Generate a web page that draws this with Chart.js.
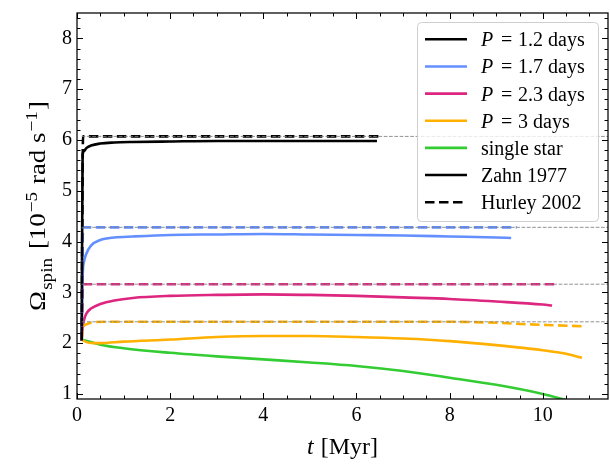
<!DOCTYPE html>
<html>
<head>
<meta charset="utf-8">
<script src="https://cdn.jsdelivr.net/npm/chart.js@4.4.1/dist/chart.umd.min.js"></script>
<style>
  html, body { margin: 0; padding: 0; background: #fff; }
  #wrap { width: 610px; height: 476px; position: relative; }
</style>
</head>
<body>
<div id="wrap"><canvas id="spinChart"></canvas></div>
<script>
// axis ticks
var xTicks = [0, 2, 4, 6, 8, 10];
var yTicks = [1, 2, 3, 4, 5, 6, 7, 8];

// P = 1.2 days
var tZahn12 = [0.1, 0.12, 0.15, 0.2, 0.3, 0.5, 0.8, 1.2, 2, 3, 4, 5, 6, 6.44];
var wZahn12 = [2.05, 5.7, 5.78, 5.84, 5.89, 5.93, 5.95, 5.96, 5.97, 5.98, 5.98, 5.98, 5.98, 5.98];
var tHurley12 = [0.1, 0.13, 6.5];
var wHurley12 = [2.05, 6.07, 6.07];

// P = 1.7 days
var tZahn17 = [0.1, 0.12, 0.15, 0.2, 0.3, 0.5, 0.8, 1.2, 2, 3, 4, 5, 6, 7, 8, 9, 9.32];
var wZahn17 = [2.05, 3.3, 3.6, 3.76, 3.92, 4.03, 4.08, 4.1, 4.13, 4.14, 4.15, 4.14, 4.13, 4.12, 4.1, 4.08, 4.07];
var tHurley17 = [0.1, 0.13, 9.44];
var wHurley17 = [2.05, 4.28, 4.28];

// P = 2.3 days
var tZahn23 = [0.1, 0.12, 0.15, 0.2, 0.3, 0.5, 0.8, 1.2, 2, 3, 4, 5, 6, 7, 8, 9, 10, 10.2];
var wZahn23 = [2.05, 2.3, 2.45, 2.58, 2.68, 2.77, 2.84, 2.89, 2.93, 2.95, 2.96, 2.95, 2.93, 2.9, 2.87, 2.82, 2.76, 2.74];
var tHurley23 = [0.1, 0.13, 10.3];
var wHurley23 = [2.05, 3.16, 3.16];

// P = 3 days
var tZahn3 = [0.1, 0.2, 0.35, 0.5, 1, 2, 3, 4, 5, 6, 7, 8, 9, 10, 10.5, 10.84];
var wZahn3 = [2.07, 2.02, 2.0, 2.0, 2.03, 2.07, 2.12, 2.14, 2.14, 2.12, 2.09, 2.04, 1.96, 1.86, 1.79, 1.71];
var tHurley3 = [0.1, 0.13, 0.2, 0.35, 0.6, 8, 9, 9.7, 10.3, 10.9];
var wHurley3 = [2.05, 2.3, 2.37, 2.41, 2.42, 2.42, 2.4, 2.37, 2.35, 2.33];

// single star
var tSingle = [0.1, 0.5, 1, 2, 3, 4, 5, 6, 7, 8, 9, 10, 10.5];
var wSingle = [2.07, 1.97, 1.9, 1.81, 1.74, 1.68, 1.62, 1.55, 1.45, 1.32, 1.18, 1.0, 0.88];

// equilibrium levels (grey guides)
var eqLevels = [6.07, 4.28, 3.16, 2.42];
var tLevel = [0.1, 11.4];

var periods = ['1.2', '1.7', '2.3', '3'];
var colors = ['#000000', '#648FFF', '#DC267F', '#FFB000'];
var singleColor = '#33CC33';

var SERIF = '"Liberation Serif", "Times New Roman", serif';

function pts(t, w) {
  return t.map(function(x, i) { return { x: x, y: w[i] }; });
}

var datasets = [];
eqLevels.forEach(function(lv) {
  datasets.push({
    data: pts(tLevel, [lv, lv]),
    borderColor: 'rgba(128,128,128,0.85)',
    borderWidth: 1,
    borderDash: [3.7, 1.6]
  });
});
var zahn = [[tZahn12, wZahn12], [tZahn17, wZahn17], [tZahn23, wZahn23], [tZahn3, wZahn3]];
var hurley = [[tHurley12, wHurley12], [tHurley17, wHurley17], [tHurley23, wHurley23], [tHurley3, wHurley3]];
hurley.forEach(function(s, i) {
  datasets.push({ data: pts(s[0], s[1]), borderColor: colors[i], borderDash: [9.5, 4.5] });
});
zahn.forEach(function(s, i) {
  datasets.push({ data: pts(s[0], s[1]), borderColor: colors[i] });
});
datasets.push({ data: pts(tSingle, wSingle), borderColor: singleColor });

function drawRuns(ctx, runs, x, y) {
  var w = 0;
  runs.forEach(function(r) {
    ctx.font = r.font;
    r.w = ctx.measureText(r.text).width + (r.gap || 0);
    w += r.w;
  });
  var cx = x - w / 2;
  runs.forEach(function(r) {
    ctx.font = r.font;
    ctx.fillText(r.text, cx, y + (r.dy || 0));
    cx += r.w;
  });
  return w;
}

var decor = {
  id: 'decor',
  afterDraw: function(chart) {
    var ctx = chart.ctx, a = chart.chartArea;
    var sx = chart.scales.x, sy = chart.scales.y;
    ctx.save();
    ctx.strokeStyle = '#000';
    ctx.lineWidth = 1;
    ctx.beginPath();
    for (var i = 0; i <= 22; i++) {
      var v = i * 0.5;
      var len = (i % 4 === 0) ? 6 : 3.5;
      var px = Math.round(sx.getPixelForValue(v)) + 0.5;
      ctx.moveTo(px, a.bottom); ctx.lineTo(px, a.bottom - len);
      ctx.moveTo(px, a.top); ctx.lineTo(px, a.top + len);
    }
    for (var j = 5; j <= 42; j++) {
      var vy = j * 0.2;
      var leny = (j % 5 === 0) ? 6 : 3.5;
      var py = Math.round(sy.getPixelForValue(vy)) + 0.5;
      ctx.moveTo(a.left, py); ctx.lineTo(a.left + leny, py);
      ctx.moveTo(a.right, py); ctx.lineTo(a.right - leny, py);
    }
    ctx.stroke();
    ctx.lineWidth = 1.25;
    ctx.strokeRect(a.left, a.top, a.right - a.left, a.bottom - a.top);

    // legend
    var bx = 417, by = 22, bw = 181, bh = 199;
    ctx.fillStyle = 'rgba(255,255,255,0.8)';
    ctx.strokeStyle = '#cfcfcf';
    ctx.lineWidth = 1;
    ctx.beginPath();
    ctx.roundRect(bx + 0.5, by + 0.5, bw, bh, 4);
    ctx.fill();
    ctx.stroke();
    var items = [];
    periods.forEach(function(p, i) { items.push({ color: colors[i], p: p }); });
    items.push({ color: singleColor, label: 'single star' });
    items.push({ color: '#000', label: 'Zahn 1977' });
    items.push({ color: '#000', label: 'Hurley 2002', dash: true });
    ctx.textBaseline = 'alphabetic';
    ctx.textAlign = 'left';
    items.forEach(function(it, k) {
      var cy = 39.3 + k * 27.15;
      ctx.strokeStyle = it.color;
      ctx.lineWidth = 2.6;
      ctx.setLineDash(it.dash ? [9.5, 4.5] : []);
      ctx.beginPath();
      ctx.moveTo(425, cy); ctx.lineTo(467, cy);
      ctx.stroke();
      ctx.setLineDash([]);
      ctx.fillStyle = '#000';
      var ty = cy + 7;
      if (it.p) {
        ctx.font = 'italic 20px ' + SERIF;
        ctx.fillText('P', 481, ty);
        ctx.font = '20px ' + SERIF;
        ctx.fillText('=', 501, ty);
        ctx.fillText(it.p + ' days', 518, ty);
      } else {
        ctx.font = '20px ' + SERIF;
        ctx.fillText(it.label, 481, ty);
      }
    });

    // axis titles
    ctx.fillStyle = '#000';
    ctx.textAlign = 'left';
    drawRuns(ctx, [
      { text: 't', font: 'italic 24px ' + SERIF, gap: 7 },
      { text: '[Myr]', font: '24px ' + SERIF }
    ], (a.left + a.right) / 2, 454);

    ctx.save();
    ctx.translate(45, (a.top + a.bottom) / 2);
    ctx.rotate(-Math.PI / 2);
    ctx.scale(1.12, 1);
    drawRuns(ctx, [
      { text: '\u03A9', font: '24px ' + SERIF, gap: 1 },
      { text: 'spin', font: '17px ' + SERIF, dy: 7, gap: 8 },
      { text: '[10', font: '24px ' + SERIF, gap: 1 },
      { text: '\u22125', font: '17px ' + SERIF, dy: -8, gap: 7 },
      { text: 'rad s', font: '24px ' + SERIF, gap: 1 },
      { text: '\u22121', font: '17px ' + SERIF, dy: -8, gap: 1 },
      { text: ']', font: '24px ' + SERIF }
    ], 0, 0);
    ctx.restore();
    ctx.restore();
  }
};

var ctx = document.getElementById('spinChart').getContext('2d');
new Chart(ctx, {
  type: 'line',
  data: { datasets: datasets },
  options: {
    responsive: true,
    maintainAspectRatio: false,
    animation: false,
    layout: { padding: { top: 13, right: 2, left: 0, bottom: 0 } },
    plugins: { legend: { display: false }, tooltip: { enabled: false } },
    elements: {
      point: { radius: 0 },
      line: { borderWidth: 2.6, cubicInterpolationMode: 'monotone', borderCapStyle: 'butt', fill: false }
    },
    scales: {
      x: {
        type: 'linear', min: 0, max: 11.4,
        grid: { display: false, drawTicks: false },
        border: { display: false },
        afterBuildTicks: function(s) { s.ticks = xTicks.map(function(v) { return { value: v }; }); },
        afterFit: function(s) { s.height = 77; s.paddingLeft = 0; s.paddingRight = 0; },
        ticks: { color: '#000', padding: 5, font: { family: SERIF, size: 20 } }
      },
      y: {
        type: 'linear', min: 0.9, max: 8.5,
        grid: { display: false, drawTicks: false },
        border: { display: false },
        afterBuildTicks: function(s) { s.ticks = yTicks.map(function(v) { return { value: v }; }); },
        afterFit: function(s) { s.width = 77; s.paddingTop = 0; s.paddingBottom = 0; },
        ticks: { color: '#000', padding: 5, font: { family: SERIF, size: 20 } }
      }
    }
  },
  plugins: [decor]
});
</script>
</body>
</html>
